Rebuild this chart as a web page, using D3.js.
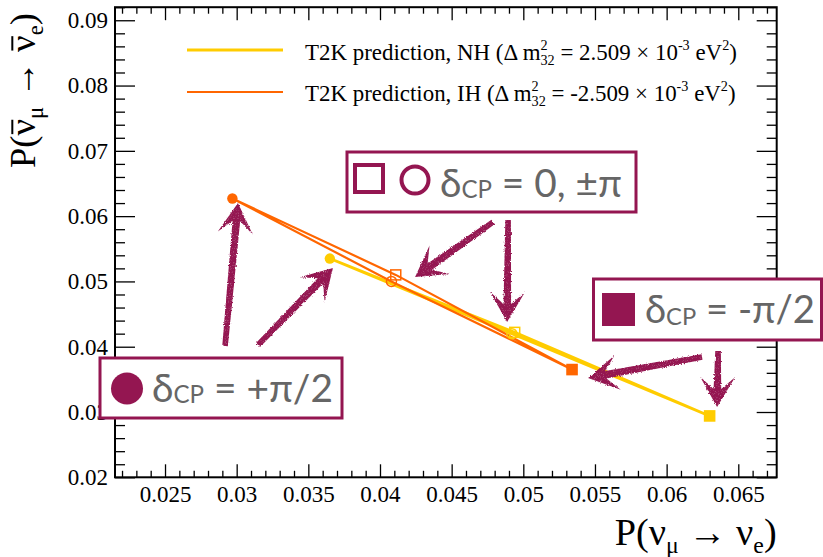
<!DOCTYPE html>
<html>
<head>
<meta charset="utf-8">
<script src="https://cdn.jsdelivr.net/npm/d3@7"></script>
<style>
  html, body { margin: 0; padding: 0; background: #fff; }
  svg { display: block; }
</style>
</head>
<body>
<script>
// Oscillation probabilities at the four CP phases, in the order +pi/2, 0, -pi/2, +-pi
const deltaLabels = ["+π/2", "0", "-π/2", "±π"];
const nhPnu    = [0.0365, 0.0492, 0.0630, 0.0494];
const nhPnubar = [0.0535, 0.0420, 0.0294, 0.0422];
const ihPnu    = [0.0297, 0.0408, 0.0534, 0.0411];
const ihPnubar = [0.0627, 0.0500, 0.0365, 0.0510];

// Axis ticks
const xMajor = [0.025, 0.03, 0.035, 0.04, 0.045, 0.05, 0.055, 0.06, 0.065];
const xMajorLabels = ["0.025", "0.03", "0.035", "0.04", "0.045", "0.05", "0.055", "0.06", "0.065"];
const yMajor = [0.02, 0.03, 0.04, 0.05, 0.06, 0.07, 0.08, 0.09];
const yMajorLabels = ["0.02", "0.03", "0.04", "0.05", "0.06", "0.07", "0.08", "0.09"];

// Hand-drawn pointer arrows, from -> to, in probability units
const arrowFrom = [[0.02919, 0.04010], [0.03149, 0.04026], [0.04789, 0.05909], [0.04894, 0.05940], [0.06247, 0.03842], [0.06359, 0.03934]];
const arrowTo   = [[0.03009, 0.06200], [0.03672, 0.05205], [0.04245, 0.05067], [0.04887, 0.04378], [0.05452, 0.03520], [0.06352, 0.03076]];

const W = 823, H = 557;
const margin = { left: 115, right: 46.3, top: 7.2, bottom: 79.7 };
const xDomain = [0.02151, 0.06768];
const yDomain = [0.02, 0.092];

const YELLOW = "#ffcc00", ORANGE = "#ff6600", MAROON = "#941651", GREY = "#666666";
const SERIF = "'Liberation Serif', 'Times New Roman', serif";
const SANS = "Lato, 'Open Sans', 'Noto Sans', sans-serif";

const svg = d3.select("body").append("svg").attr("width", W).attr("height", H);

const defs = svg.append("defs");
const chalk = defs.append("filter").attr("id", "chalk")
  .attr("x", "-30%").attr("y", "-30%").attr("width", "160%").attr("height", "160%");
chalk.append("feTurbulence").attr("type", "fractalNoise").attr("baseFrequency", 0.9)
  .attr("numOctaves", 2).attr("seed", 4).attr("result", "noise");
chalk.append("feDisplacementMap").attr("in", "SourceGraphic").attr("in2", "noise")
  .attr("scale", 3).attr("xChannelSelector", "R").attr("yChannelSelector", "G").attr("result", "disp");
chalk.append("feTurbulence").attr("type", "fractalNoise").attr("baseFrequency", 1.4)
  .attr("numOctaves", 1).attr("seed", 9).attr("result", "grain");
chalk.append("feColorMatrix").attr("in", "grain").attr("type", "matrix")
  .attr("values", "0 0 0 0 0  0 0 0 0 0  0 0 0 0 0  0 0 0 -1.1 1.6").attr("result", "mask");
chalk.append("feComposite").attr("in", "disp").attr("in2", "mask").attr("operator", "in");

const x = d3.scaleLinear().domain(xDomain).range([margin.left, W - margin.right]);
const y = d3.scaleLinear().domain(yDomain).range([H - margin.bottom, margin.top]);

const xMinor = d3.range(22, 68).map(v => v / 1000).filter(v => !xMajor.some(m => Math.abs(m - v) < 1e-9));
const yMinor = d3.range(10, 47).map(v => v * 2 / 1000).filter(v => !yMajor.some(m => Math.abs(m - v) < 1e-9));

function styleAxis(g) {
  g.select(".domain").remove();
  g.selectAll(".tick line").attr("stroke", "#000").attr("stroke-width", 1.3);
  g.selectAll("text").attr("font-family", SERIF).attr("font-size", 23).attr("fill", "#000");
}

// Bottom axis (labelled) and its minor ticks
svg.append("g").attr("transform", `translate(0,${y.range()[0]})`)
  .call(d3.axisBottom(x).tickValues(xMajor).tickFormat((d, i) => xMajorLabels[i]).tickSizeInner(-13).tickSizeOuter(0).tickPadding(8))
  .call(styleAxis);
svg.append("g").attr("transform", `translate(0,${y.range()[0]})`)
  .call(d3.axisBottom(x).tickValues(xMinor).tickFormat("").tickSizeInner(-6.5).tickSizeOuter(0))
  .call(styleAxis);
// Top axis ticks
svg.append("g").attr("transform", `translate(0,${y.range()[1]})`)
  .call(d3.axisTop(x).tickValues(xMajor).tickFormat("").tickSizeInner(-13).tickSizeOuter(0))
  .call(styleAxis);
svg.append("g").attr("transform", `translate(0,${y.range()[1]})`)
  .call(d3.axisTop(x).tickValues(xMinor).tickFormat("").tickSizeInner(-6.5).tickSizeOuter(0))
  .call(styleAxis);
// Left axis (labelled)
svg.append("g").attr("transform", `translate(${x.range()[0]},0)`)
  .call(d3.axisLeft(y).tickValues(yMajor).tickFormat((d, i) => yMajorLabels[i]).tickSizeInner(-20).tickSizeOuter(0).tickPadding(7))
  .call(styleAxis);
svg.append("g").attr("transform", `translate(${x.range()[0]},0)`)
  .call(d3.axisLeft(y).tickValues(yMinor).tickFormat("").tickSizeInner(-10).tickSizeOuter(0))
  .call(styleAxis);
// Right axis ticks
svg.append("g").attr("transform", `translate(${x.range()[1]},0)`)
  .call(d3.axisRight(y).tickValues(yMajor).tickFormat("").tickSizeInner(-20).tickSizeOuter(0))
  .call(styleAxis);
svg.append("g").attr("transform", `translate(${x.range()[1]},0)`)
  .call(d3.axisRight(y).tickValues(yMinor).tickFormat("").tickSizeInner(-10).tickSizeOuter(0))
  .call(styleAxis);

// Frame
svg.append("rect")
  .attr("x", x.range()[0]).attr("y", y.range()[1])
  .attr("width", x.range()[1] - x.range()[0]).attr("height", y.range()[0] - y.range()[1])
  .attr("fill", "none").attr("stroke", "#000").attr("stroke-width", 2);

// Lays out a run of text pieces left to right; supports sub/superscripts, stacked
// sup+sub pairs and an overbar. Returns the total advance width.
function richText(g, pieces, size, family, fill) {
  let cx = 0;
  const measure = (s, fs) => {
    const t = g.append("text").attr("font-family", family).attr("font-size", fs).text(s);
    const w = t.node().getComputedTextLength();
    t.remove();
    return w;
  };
  pieces.forEach(p => {
    if (p.t !== undefined) {
      const fs = p.scale ? size * p.scale : size;
      const dy = p.dy ? p.dy * size : 0;
      const t = g.append("text").attr("x", cx).attr("y", dy)
        .attr("font-family", family).attr("font-size", fs).attr("fill", fill)
        .attr("xml:space", "preserve").style("white-space", "pre").text(p.t);
      const w = t.node().getComputedTextLength();
      if (p.bar) {
        g.append("line").attr("x1", cx + w * 0.08).attr("x2", cx + w * 0.95)
          .attr("y1", -size * 0.62).attr("y2", -size * 0.62)
          .attr("stroke", fill).attr("stroke-width", size * 0.055);
      }
      cx += w + (p.after || 0);
    } else if (p.sup !== undefined || p.sub !== undefined) {
      const fs = size * 0.62;
      let w = 0;
      if (p.sup !== undefined) {
        g.append("text").attr("x", cx).attr("y", -size * 0.42).attr("font-family", family)
          .attr("font-size", fs).attr("fill", fill).text(p.sup);
        w = Math.max(w, measure(p.sup, fs));
      }
      if (p.sub !== undefined) {
        g.append("text").attr("x", cx).attr("y", size * 0.26).attr("font-family", family)
          .attr("font-size", fs).attr("fill", fill).text(p.sub);
        w = Math.max(w, measure(p.sub, fs));
      }
      cx += w;
    }
  });
  return cx;
}

// Renders rich text so that its width matches a target width; returns the font size used.
function fittedText(g, pieces, target, family, fill, sizeOverride) {
  let fs = sizeOverride || 20;
  if (!sizeOverride) {
    const w0 = richText(g, pieces, fs, family, fill);
    g.selectAll("*").remove();
    fs = fs * target / w0;
  }
  richText(g, pieces, fs, family, fill);
  return fs;
}

// Probability curves: closed loop through the four phases
const loop = d3.line().x(d => x(d[0])).y(d => y(d[1])).curve(d3.curveLinearClosed);
const nhPts = nhPnu.map((v, i) => [v, nhPnubar[i]]);
const ihPts = ihPnu.map((v, i) => [v, ihPnubar[i]]);
svg.append("path").attr("d", loop(nhPts)).attr("fill", "none").attr("stroke", YELLOW).attr("stroke-width", 2.8).attr("stroke-linejoin", "round");
svg.append("path").attr("d", loop(ihPts)).attr("fill", "none").attr("stroke", ORANGE).attr("stroke-width", 2.2).attr("stroke-linejoin", "round");

function drawMarkers(pts, color) {
  pts.forEach((p, i) => {
    const cx = x(p[0]), cy = y(p[1]);
    const lab = deltaLabels[i];
    if (lab === "+π/2") {
      svg.append("circle").attr("cx", cx).attr("cy", cy).attr("r", 5.2).attr("fill", color);
    } else if (lab === "-π/2") {
      svg.append("rect").attr("x", cx - 5.8).attr("y", cy - 5.8).attr("width", 11.6).attr("height", 11.6).attr("fill", color);
    } else if (lab === "0") {
      svg.append("circle").attr("cx", cx).attr("cy", cy).attr("r", 5).attr("fill", "none").attr("stroke", color).attr("stroke-width", 1.5);
    } else {
      svg.append("rect").attr("x", cx - 5).attr("y", cy - 5).attr("width", 10).attr("height", 10).attr("fill", "none").attr("stroke", color).attr("stroke-width", 1.5);
    }
  });
}
drawMarkers(nhPts, YELLOW);
drawMarkers(ihPts, ORANGE);

// Legend
const legendRows = [
  { color: YELLOW, width: 2.8, y: 50, base: 59.5,
    pieces: [{ t: "T2K prediction, NH (Δ m" }, { sup: "2", sub: "32" }, { t: " = 2.509 × 10" }, { sup: "-3" }, { t: " eV" }, { sup: "2" }, { t: ")" }] },
  { color: ORANGE, width: 2.2, y: 92, base: 100.5,
    pieces: [{ t: "T2K prediction, IH (Δ m" }, { sup: "2", sub: "32" }, { t: " = -2.509 × 10" }, { sup: "-3" }, { t: " eV" }, { sup: "2" }, { t: ")" }] }
];
let legendSize = null;
legendRows.forEach(r => {
  svg.append("line").attr("x1", 187).attr("x2", 283).attr("y1", r.y).attr("y2", r.y)
    .attr("stroke", r.color).attr("stroke-width", r.width);
  const g = svg.append("g").attr("transform", `translate(305,${r.base})`);
  legendSize = fittedText(g, r.pieces, 432, SERIF, "#000", legendSize);
});

// Axis titles
const xt = svg.append("g");
fittedText(xt, [{ t: "P(" }, { t: "ν" }, { t: "μ", scale: 0.62, dy: 0.22 }, { t: " → " }, { t: "ν" }, { t: "e", scale: 0.62, dy: 0.22 }, { t: ")" }], 162, SERIF, "#000");
xt.attr("transform", `translate(${x.range()[1] - 162},545)`);

const yt = svg.append("g");
fittedText(yt, [{ t: "P(" }, { t: "ν", bar: true }, { t: "μ", scale: 0.62, dy: 0.22 }, { t: " → " }, { t: "ν", bar: true }, { t: "e", scale: 0.62, dy: 0.22 }, { t: ")" }], 155, SERIF, "#000");
yt.attr("transform", `translate(35,${168}) rotate(-90)`);

// Phase key boxes
function keyBox(bx, by, bw, bh) {
  return svg.append("rect").attr("x", bx).attr("y", by).attr("width", bw).attr("height", bh)
    .attr("fill", "#fff").attr("stroke", MAROON).attr("stroke-width", 3);
}
function keyText(tx, base, target, tail) {
  const g = svg.append("g").attr("transform", `translate(${tx},${base})`);
  fittedText(g, [{ t: "δ" }, { t: "CP", scale: 0.62, dy: 0.04 }, { t: tail }], target, SANS, GREY);
}

keyBox(347, 152, 289, 60);
svg.append("rect").attr("x", 355).attr("y", 165).attr("width", 28).attr("height", 27)
  .attr("fill", "none").attr("stroke", MAROON).attr("stroke-width", 4);
svg.append("circle").attr("cx", 415).attr("cy", 180).attr("r", 13.5)
  .attr("fill", "none").attr("stroke", MAROON).attr("stroke-width", 4);
keyText(440, 196.5, 182, " = 0, ±π");

keyBox(593.5, 279, 228, 61);
svg.append("rect").attr("x", 602).attr("y", 293).attr("width", 33).attr("height", 33).attr("fill", MAROON);
keyText(645, 323, 170, " = -π/2");

keyBox(100, 358, 242, 60);
svg.append("circle").attr("cx", 127).attr("cy", 388.5).attr("r", 16).attr("fill", MAROON);
keyText(152, 401.5, 181, " = +π/2");

// Hand-drawn arrows
const arrows = svg.append("g").attr("filter", "url(#chalk)").attr("fill", MAROON);
arrowFrom.forEach((f, i) => {
  const x1 = x(f[0]), y1 = y(f[1]);
  const x2 = x(arrowTo[i][0]), y2 = y(arrowTo[i][1]);
  const len = Math.hypot(x2 - x1, y2 - y1);
  const ux = (x2 - x1) / len, uy = (y2 - y1) / len;
  const nx = -uy, ny = ux;
  const head = 30, half = 17.5, notch = 18, w0 = 2.8, w1 = 3.8;
  const bx = x2 - ux * head, by = y2 - uy * head;
  const kx = x2 - ux * notch, ky = y2 - uy * notch;
  const pts = [
    [x1 + nx * w0, y1 + ny * w0],
    [kx + nx * w1, ky + ny * w1],
    [bx + nx * half, by + ny * half],
    [x2, y2],
    [bx - nx * half, by - ny * half],
    [kx - nx * w1, ky - ny * w1],
    [x1 - nx * w0, y1 - ny * w0]
  ];
  arrows.append("path").attr("d", "M" + pts.map(p => p.join(",")).join("L") + "Z");
});
</script>
</body>
</html>
